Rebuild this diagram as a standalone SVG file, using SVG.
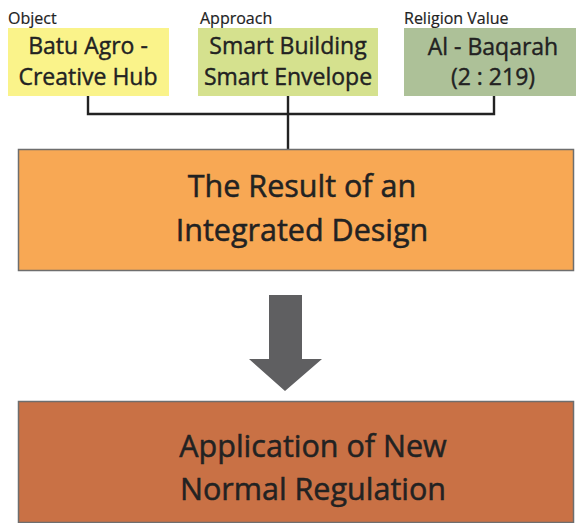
<svg xmlns="http://www.w3.org/2000/svg" width="577" height="523" viewBox="0 0 577 523">
  <style>
    .lbl { font-family: "Open Sans", "Noto Sans", "DejaVu Sans", sans-serif; font-size: 16px; fill: #222; stroke: #222; stroke-width: 0.2; }
    .t24 { font-family: "Open Sans", "Noto Sans", "DejaVu Sans", sans-serif; font-size: 23px; fill: #222; stroke: #222; stroke-width: 0.4; text-anchor: middle; }
    .t30 { font-family: "Open Sans", "Noto Sans", "DejaVu Sans", sans-serif; font-size: 30.5px; fill: #222; stroke: #222; stroke-width: 0.5; text-anchor: middle; }
    .wire { fill: none; stroke: #222; stroke-width: 2.4; }
    .big { stroke: #6e6e6e; stroke-width: 1.5; }
  </style>
  <rect width="577" height="523" fill="#ffffff"/>

  <!-- connectors -->
  <g id="connectors">
    <polyline class="wire" points="88,96 88,114 494,114 494,96"/>
    <line class="wire" x1="288" y1="96" x2="288" y2="149"/>
    <polygon fill="#5f5f61" points="269,295 302,295 302,359 322,359 285,391 249,359 269,359"/>
  </g>

  <g id="object">
    <text class="lbl" x="8" y="24">Object</text>
    <rect x="8" y="28" width="161" height="68" fill="#faf38a"/>
    <text class="t24" x="88" y="54">Batu Agro -</text>
    <text class="t24" x="88" y="85">Creative Hub</text>
  </g>

  <g id="approach">
    <text class="lbl" x="200" y="24">Approach</text>
    <rect x="198" y="28" width="180" height="68" fill="#d5e18e"/>
    <text class="t24" x="288" y="54">Smart Building</text>
    <text class="t24" x="288" y="85">Smart Envelope</text>
  </g>

  <g id="religion">
    <text class="lbl" x="404" y="24">Religion Value</text>
    <rect x="404" y="28" width="172" height="68" fill="#adc198"/>
    <text class="t24" x="493" y="55">Al - Baqarah</text>
    <text class="t24" x="493" y="85">(2 : 219)</text>
  </g>

  <g id="result">
    <rect class="big" x="18.5" y="149.5" width="555" height="121" fill="#f8a854"/>
    <text class="t30" x="302" y="197">The Result of an</text>
    <text class="t30" x="302" y="241">Integrated Design</text>
  </g>

  <g id="regulation">
    <rect class="big" x="18.5" y="401.5" width="555" height="121" fill="#c97145"/>
    <text class="t30" x="313" y="457">Application of New</text>
    <text class="t30" x="313" y="500">Normal Regulation</text>
  </g>
</svg>
